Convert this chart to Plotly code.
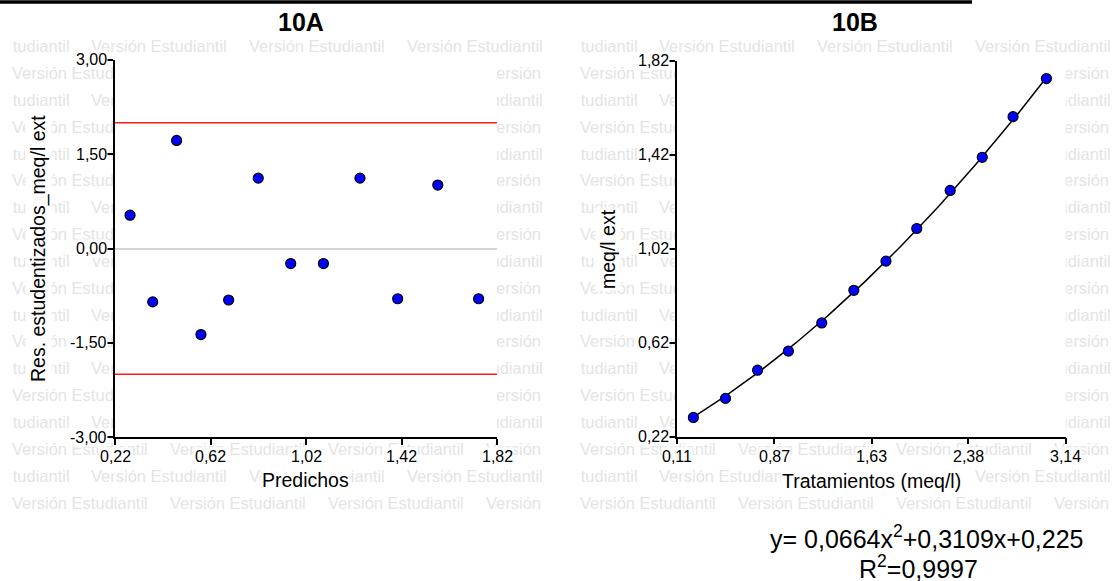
import plotly.graph_objects as go

# ---- 10A: studentized residuals vs. predicted values ----
predichos = [0.283, 0.378, 0.478, 0.580, 0.696, 0.820, 0.956, 1.093, 1.246, 1.404, 1.572, 1.743]
residuos = [0.53, -0.85, 1.72, -1.37, -0.82, 1.12, -0.24, -0.24, 1.12, -0.80, 1.01, -0.80]
limite_residuos = 2.0

# ---- 10B: extracted meq/l vs. treatment, with quadratic fit ----
tratamientos = [0.24, 0.49, 0.74, 0.98, 1.24, 1.49, 1.74, 1.98, 2.24, 2.49, 2.73, 2.99]
meq_ext = [0.302, 0.383, 0.503, 0.584, 0.704, 0.843, 0.967, 1.106, 1.268, 1.409, 1.582, 1.744]
coef = [0.0664, 0.3109, 0.225]   # a, b, c of y = a*x^2 + b*x + c
r2 = 0.9997

# ---- axis ticks ----
ticks_a_x = [0.22, 0.62, 1.02, 1.42, 1.82]
ticks_a_x_text = ["0,22", "0,62", "1,02", "1,42", "1,82"]
ticks_a_y = [-3.0, -1.5, 0.0, 1.5, 3.0]
ticks_a_y_text = ["-3,00", "-1,50", "0,00", "1,50", "3,00"]
ticks_b_x = [0.11, 0.87, 1.63, 2.38, 3.14]
ticks_b_x_text = ["0,11", "0,87", "1,63", "2,38", "3,14"]
ticks_b_y = [0.22, 0.62, 1.02, 1.42, 1.82]
ticks_b_y_text = ["0,22", "0,62", "1,02", "1,42", "1,82"]

W, H = 1113, 581
FONT = "Liberation Sans, Arial, Helvetica, sans-serif"


def fx(px):
    return px / W


def fy(py):
    return 1 - py / H


fig = go.Figure()

# ---- background watermark ----
# Rows of "Versión Estudiantil" tiled inside two boxes; each repeat is trimmed to the
# characters that fall inside its box so no text runs past the box edges.
WM_TEXT = "Versión Estudiantil"
WM_SIZE = 16.5
WM_PERIOD = 158.0
WM_ROWS = 18
WM_ROW0 = 48
WM_STEP = 26.85
wm_boxes = [(12, 540), (580, 1108)]
ADV = {"V": 667, "e": 556, "r": 333, "s": 500, "i": 222, "ó": 556, "n": 556, " ": 278,
       "E": 667, "t": 278, "u": 556, "d": 556, "a": 556, "l": 222}

wm_x, wm_y, wm_t = [], [], []
for left, right in wm_boxes:
    for k in range(WM_ROWS):
        y = WM_ROW0 + k * WM_STEP
        origin = left if k % 2 else left - WM_PERIOD / 2
        for j in range(5):
            pos = origin + j * WM_PERIOD
            kept = []
            for ch in WM_TEXT:
                w = ADV[ch] * WM_SIZE / 1000
                if pos >= left - 0.5 and pos + w <= right + 4:
                    kept.append((pos, ch))
                pos += w
            while kept and kept[0][1] == " ":
                kept.pop(0)
            while kept and kept[-1][1] == " ":
                kept.pop()
            if kept:
                wm_x.append(kept[0][0])
                wm_y.append(y)
                wm_t.append("".join(c for _, c in kept))

fig.add_trace(go.Scatter(
    x=wm_x, y=wm_y, mode="text", text=wm_t, textposition="middle right",
    cliponaxis=False, textfont=dict(family=FONT, size=WM_SIZE, color="#e4e4e4"),
    hoverinfo="skip", showlegend=False, xaxis="x", yaxis="y",
))
fig.update_layout(
    xaxis=dict(visible=False, domain=[0, 1], range=[0, W], fixedrange=True),
    yaxis=dict(visible=False, domain=[0, 1], range=[H, 0], fixedrange=True),
)

# ---- 10A traces ----
marker = dict(size=10, color="#0000ff", line=dict(color="black", width=1.2))
fig.add_trace(go.Scatter(x=predichos, y=residuos, mode="markers", marker=marker,
                         xaxis="x3", yaxis="y3", showlegend=False, cliponaxis=False))

# ---- 10B traces ----
n_curve = 120
x_fit = [tratamientos[0] + (tratamientos[-1] - tratamientos[0]) * i / (n_curve - 1) for i in range(n_curve)]
y_fit = [coef[0] * x * x + coef[1] * x + coef[2] for x in x_fit]
fig.add_trace(go.Scatter(x=x_fit, y=y_fit, mode="lines", line=dict(color="black", width=1.5),
                         xaxis="x4", yaxis="y4", showlegend=False, hoverinfo="skip"))
fig.add_trace(go.Scatter(x=tratamientos, y=meq_ext, mode="markers", marker=marker,
                         xaxis="x4", yaxis="y4", showlegend=False, cliponaxis=False))

axis_style = dict(
    showline=True, linecolor="black", linewidth=1.5, mirror=False,
    ticks="outside", ticklen=6, tickwidth=1.5, tickcolor="black",
    showgrid=False, zeroline=False, fixedrange=True, showticklabels=False,
)

fig.update_layout(
    xaxis3=dict(axis_style, domain=[fx(115), fx(497)], range=[0.22, 1.82],
                tickvals=ticks_a_x, anchor="y3"),
    yaxis3=dict(axis_style, domain=[fy(437), fy(60)], range=[-3.0, 3.0],
                tickvals=ticks_a_y, anchor="x3",
                zeroline=True, zerolinecolor="#d4d4d4", zerolinewidth=1.5),
    xaxis4=dict(axis_style, domain=[fx(676.7), fx(1065.7)], range=[0.11, 3.14],
                tickvals=ticks_b_x, anchor="y4"),
    yaxis4=dict(axis_style, domain=[fy(436.7), fy(60.7)], range=[0.22, 1.82],
                tickvals=ticks_b_y, anchor="x4"),
)

# ---- tick labels on white boxes, placed on the axes' own scales ----
tick_font = dict(family=FONT, size=16, color="black")
for xa, ya, xv, xt, yv, yt in [("x3", "y3", ticks_a_x, ticks_a_x_text, ticks_a_y, ticks_a_y_text),
                               ("x4", "y4", ticks_b_x, ticks_b_x_text, ticks_b_y, ticks_b_y_text)]:
    for v, t in zip(xv, xt):
        fig.add_annotation(text=t, x=v, xref=xa, y=0, yref=ya + " domain",
                           xanchor="center", yanchor="top", yshift=-10, showarrow=False,
                           bgcolor="white", borderpad=0, font=tick_font)
    for v, t in zip(yv, yt):
        fig.add_annotation(text=t, x=0, xref=xa + " domain", y=v, yref=ya,
                           xanchor="right", yanchor="middle", xshift=-7, showarrow=False,
                           bgcolor="white", borderpad=0, font=tick_font)

# ---- residual limits ----
for lim in (limite_residuos, -limite_residuos):
    fig.add_shape(type="line", xref="x3 domain", x0=0, x1=1, yref="y3", y0=lim, y1=lim,
                  line=dict(color="#ff1a1a", width=1.5))

# ---- border line across the top ----
fig.add_shape(type="line", xref="paper", yref="paper", x0=0, x1=fx(972), y0=fy(2), y1=fy(2),
              line=dict(color="black", width=3.5))


# ---- titles, axis titles, equation ----
def note(text, x, y, size, angle=0, bg="white"):
    fig.add_annotation(text=text, x=fx(x), y=fy(y), xref="paper", yref="paper",
                       xanchor="center", yanchor="middle",
                       showarrow=False, textangle=angle, bgcolor=bg, borderpad=1,
                       font=dict(family=FONT, size=size, color="black"))


note("<b>10A</b>", 301, 22, 25, bg="rgba(0,0,0,0)")
note("<b>10B</b>", 855, 22, 25, bg="rgba(0,0,0,0)")
note("Res. estudentizados_meq/l ext", 38, 249, 19.5, angle=-90)
note("meq/l ext", 608, 249, 19.5, angle=-90)
note("Predichos", 305, 480, 19.5)
note("Tratamientos (meq/l)", 871, 481, 19.5)


def dec(v, nd):
    return f"{v:.{nd}f}".replace(".", ",")


eq = f"y= {dec(coef[0], 4)}x<sup>2</sup>+{dec(coef[1], 4)}x+{dec(coef[2], 3)}"
note(eq, 926, 537, 25, bg="rgba(0,0,0,0)")
note(f"R<sup>2</sup>={dec(r2, 4)}", 918, 567, 25, bg="rgba(0,0,0,0)")

fig.update_layout(
    width=W, height=H,
    margin=dict(l=0, r=0, t=0, b=0),
    paper_bgcolor="white", plot_bgcolor="white",
    showlegend=False,
)

fig.write_html("out.html", config={"displayModeBar": False})
